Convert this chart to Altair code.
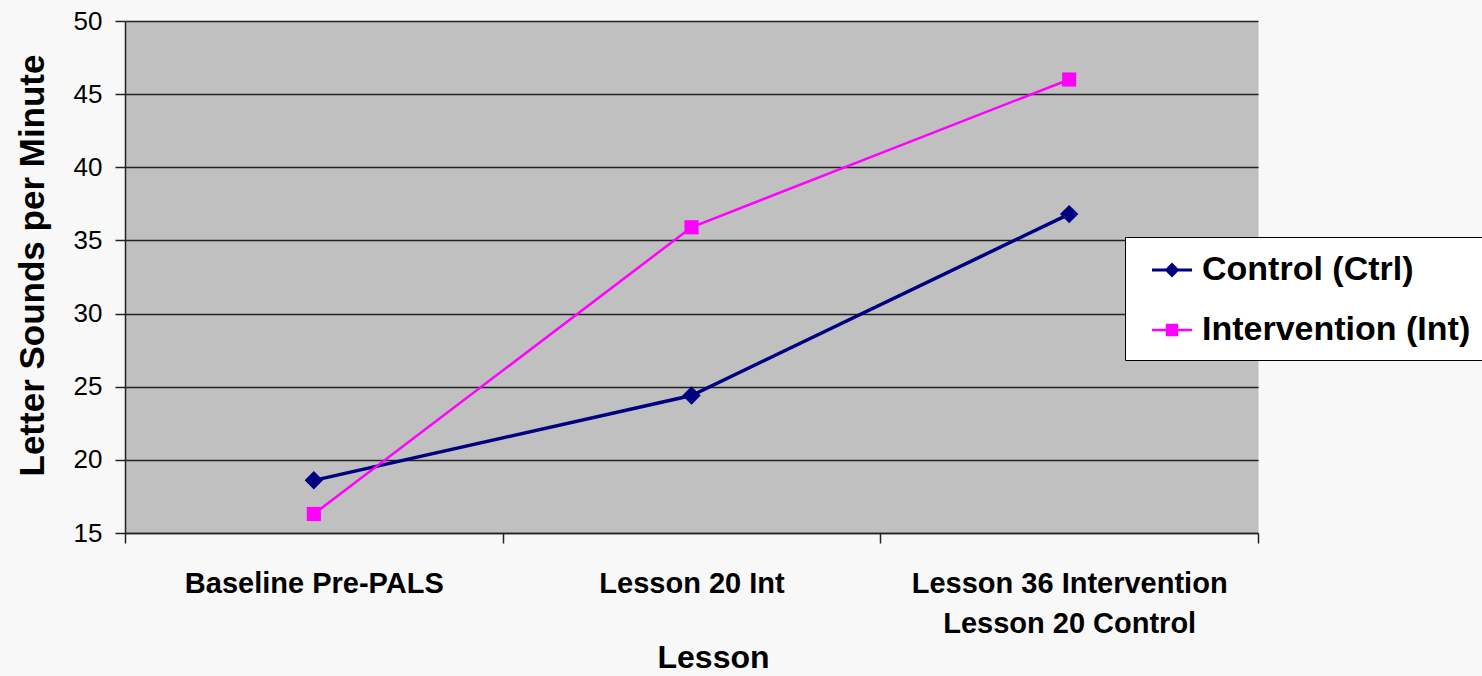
import altair as alt
import pandas as pd

categories = ["Baseline Pre-PALS", "Lesson 20 Int", "Lesson 36 Intervention\nLesson 20 Control"]
series_names = ["Control (Ctrl)", "Intervention (Int)"]
control_values = [18.6, 24.4, 36.8]
intervention_values = [16.3, 35.9, 46.0]
y_ticks = [15, 20, 25, 30, 35, 40, 45, 50]

rows = []
for c, v in zip(categories, control_values):
    rows.append({"lesson": c, "series": series_names[0], "value": v})
for c, v in zip(categories, intervention_values):
    rows.append({"lesson": c, "series": series_names[1], "value": v})
df = pd.DataFrame(rows)

FONT = "Liberation Sans"
colors = ["#000080", "#FF00FF"]
marker_shapes = ["diamond", "square"]
marker_sizes = [340, 200]
line_widths = [3.5, 2.5]

# legend glyphs: a short line with the series marker on it
ctrl_path = "M-1,-0.08H1V0.08H-1Z M0,-0.37L0.37,0L0,0.37L-0.37,0Z"
int_path = "M-1,-0.065H1V0.065H-1Z M-0.31,-0.31H0.31V0.31H-0.31Z"

x_enc = alt.X(
    "lesson:N",
    sort=categories,
    scale=alt.Scale(type="band", paddingInner=0, paddingOuter=0),
    axis=alt.Axis(
        title="Lesson",
        titleFont=FONT, titleFontSize=32, titleFontWeight="bold", titleColor="black",
        titleX=588, titleY=134, titleBaseline="alphabetic", titleAnchor="start", titleAlign="center",
        labelFont=FONT, labelFontSize=29, labelFontWeight="bold", labelColor="black",
        labelAngle=0, labelBaseline="alphabetic", labelPadding=49, labelLineHeight=40,
        labelLimit=500, labelOverlap=False,
        labelExpr="split(datum.label, '\\n')",
        tickBand="extent", tickSize=10, tickColor="#222222", tickWidth=1.5,
        domainColor="#222222", domainWidth=1.5, grid=False,
    ),
)

y_enc = alt.Y(
    "value:Q",
    scale=alt.Scale(domain=[15, 50], nice=False, zero=False),
    axis=alt.Axis(
        values=y_ticks,
        title="Letter Sounds per Minute",
        titleFont=FONT, titleFontSize=35, titleFontWeight="bold", titleColor="black",
        titleX=-82, titleY=244, titleBaseline="alphabetic", titleAngle=270, titleAlign="center",
        labelFont=FONT, labelFontSize=26, labelColor="black", labelPadding=13,
        tickSize=10, tickColor="#222222", tickWidth=1.5,
        domainColor="#222222", domainWidth=1.5,
        grid=True, gridColor="#222222", gridWidth=1.3,
    ),
)

legend = alt.Legend(
    title=None, orient="none", legendX=1000, legendY=216,
    fillColor="white", strokeColor="black", padding=13,
    symbolSize=1600, symbolOffset=14, labelOffset=10, rowPadding=23,
    symbolOpacity=1, symbolStrokeWidth=0,
    labelFont=FONT, labelFontSize=34, labelFontWeight="bold", labelColor="black",
    labelLimit=600,
)

color_enc = alt.Color("series:N", scale=alt.Scale(domain=series_names, range=colors), legend=legend)

base = alt.Chart(df)

layers = []
for name, shp, sz, lw in zip(series_names, marker_shapes, marker_sizes, line_widths):
    sub = base.transform_filter(alt.datum.series == name)
    layers.append(sub.mark_line(strokeWidth=lw).encode(x=x_enc, y=y_enc, color=color_enc))
    layers.append(
        sub.mark_point(filled=True, opacity=1, shape=shp, size=sz).encode(x=x_enc, y=y_enc, color=color_enc)
    )

# invisible layer that only supplies the legend glyphs
legend_layer = base.mark_point(filled=True, opacity=0).encode(
    x=x_enc,
    y=y_enc,
    color=color_enc,
    shape=alt.Shape("series:N", scale=alt.Scale(domain=series_names, range=[ctrl_path, int_path]), legend=legend),
)
layers.append(legend_layer)

chart = alt.layer(*layers).properties(
    width=1133,
    height=512,
    autosize=alt.AutoSizeParams(type="none"),
    padding={"left": 125, "top": 21, "right": 224, "bottom": 143},
    background="#F8F8F8",
).configure_view(
    fill="#C0C0C0",
    stroke="transparent",
)

chart.save("out.html", embed_options={"renderer": "svg", "actions": False})
